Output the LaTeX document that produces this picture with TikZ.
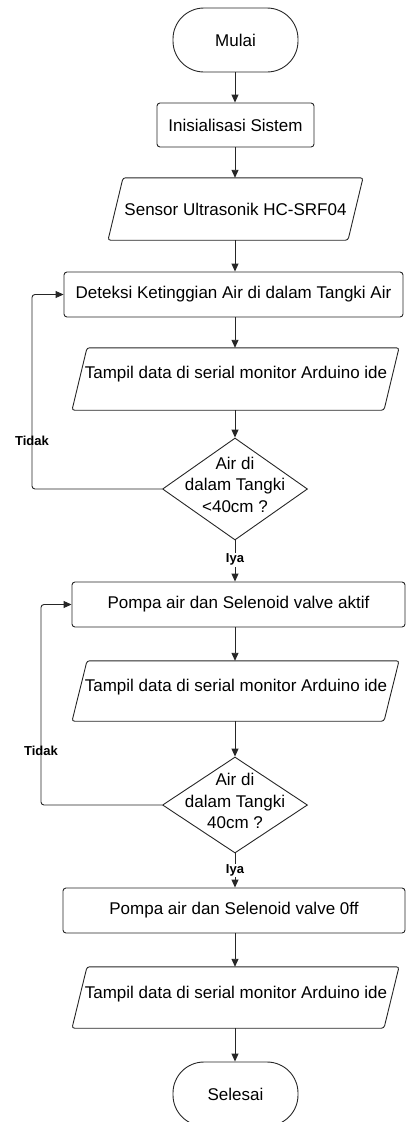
\documentclass[tikz,border=0pt]{standalone}
\usepackage{fontspec}
\setmainfont{Liberation Sans}
\usetikzlibrary{arrows.meta,shapes.geometric,calc}
\begin{document}
\begin{tikzpicture}[x=1pt,y=-1pt,
  lw/.style={line width=0.9pt, draw=black!85},
  arr/.style={lw,-{Triangle[length=8pt,width=7pt]}},
  procbox/.style={lw, rounded corners=3pt, inner sep=0pt, font=\fontsize{17}{20}\selectfont},
  termbox/.style={lw, rounded corners=31pt, inner sep=0pt, minimum width=125pt, minimum height=64pt, font=\fontsize{17}{20}\selectfont},
  holder/.style={inner sep=0pt},
  txt/.style={inner sep=0pt, font=\fontsize{17}{21.5}\selectfont, align=center},
  shp/.style={lw, rounded corners=2.5pt},
  lbl/.style={inner sep=1pt, font=\fontsize{13}{15}\selectfont\bfseries}
]
\useasboundingbox (0,0) rectangle (406,1122);

% Terminals and process boxes
\node[termbox] (mulai) at (235.5,40) {Mulai};
\node[procbox, minimum width=157pt, minimum height=44pt] (init) at (235.5,125) {Inisialisasi Sistem};

% Sensor parallelogram
\node[holder, minimum width=240pt, minimum height=62pt] (sensor) at (235.5,209) {};
\draw[shp] ([xshift=-112.5pt]sensor.north) -- ([xshift=127.5pt]sensor.north) -- ([xshift=112.5pt]sensor.south) -- ([xshift=-127.5pt]sensor.south) -- cycle;
\node[txt] (sensortxt) at (235.5,209) {Sensor Ultrasonik HC-SRF04};

\node[procbox, minimum width=339pt, minimum height=45pt] (deteksi) at (233.5,294.5) {Deteksi Ketinggian Air di dalam Tangki Air};

% Tampil 1
\node[holder, minimum width=312pt, minimum height=62pt] (t1) at (235.5,379) {};
\draw[shp] ([xshift=-148.5pt]t1.north) -- ([xshift=163.5pt]t1.north) -- ([xshift=148.5pt]t1.south) -- ([xshift=-163.5pt]t1.south) -- cycle;
\node[txt] (t1txt) at (236,374) {Tampil data di serial monitor Arduino ide};

% Decision 1
\node[holder, diamond, lw, minimum width=145pt, minimum height=102pt] (d1) at (235,489) {};
\node[txt] (d1txt) at (235,484.5) {Air di\\dalam Tangki\\<40cm ?};

\node[procbox, minimum width=333pt, minimum height=45pt] (p1) at (238.5,604.5) {Pompa air dan Selenoid valve aktif};

% Tampil 2
\node[holder, minimum width=312pt, minimum height=60pt] (t2) at (235.5,691) {};
\draw[shp] ([xshift=-148.5pt]t2.north) -- ([xshift=163.5pt]t2.north) -- ([xshift=148.5pt]t2.south) -- ([xshift=-163.5pt]t2.south) -- cycle;
\node[txt] (t2txt) at (236,687) {Tampil data di serial monitor Arduino ide};

% Decision 2
\node[holder, diamond, lw, minimum width=145pt, minimum height=96pt] (d2) at (235,805) {};
\node[txt] (d2txt) at (235,801) {Air di\\dalam Tangki\\40cm ?};

\node[procbox, minimum width=342pt, minimum height=45pt] (p2) at (234,910.5) {Pompa air dan Selenoid valve 0ff};

% Tampil 3
\node[holder, minimum width=312pt, minimum height=61pt] (t3) at (235.5,997.5) {};
\draw[shp] ([xshift=-148.5pt]t3.north) -- ([xshift=163.5pt]t3.north) -- ([xshift=148.5pt]t3.south) -- ([xshift=-163.5pt]t3.south) -- cycle;
\node[txt] (t3txt) at (236,994) {Tampil data di serial monitor Arduino ide};

\node[termbox] (selesai) at (235.5,1094) {Selesai};

% Connectors
\draw[arr] (d1.north |- mulai.south) -- (d1.north |- init.north);
\draw[arr] (d1.north |- init.south) -- (d1.north |- sensor.north);
\draw[arr] (d1.north |- sensor.south) -- (d1.north |- deteksi.north);
\draw[arr] (d1.north |- deteksi.south) -- (d1.north |- t1.north);
\draw[arr] (d1.north |- t1.south) -- (d1.north);
\draw[arr] (d1.south) -- node[lbl, fill=white, pos=0.47] (iya1) {Iya} (d1.south |- p1.north);
\draw[arr, rounded corners=3pt] (d1.west) -- (32,489) -- node[lbl, pos=0.25] (tidak1) {Tidak} (32,294.5) -- (deteksi.west);

\draw[arr] (d1.north |- p1.south) -- (d1.north |- t2.north);
\draw[arr] (d1.north |- t2.south) -- (d2.north);
\draw[arr] (d2.south) -- node[lbl, fill=white, pos=0.5] (iya2) {Iya} (d2.south |- p2.north);
\draw[arr, rounded corners=3pt] (d2.west) -- (41,805) -- node[lbl, pos=0.27] (tidak2) {Tidak} (41,604.5) -- (p1.west);

\draw[arr] (d1.north |- p2.south) -- (d1.north |- t3.north);
\draw[arr] (d1.north |- t3.south) -- (d1.north |- selesai.north);
\end{tikzpicture}
\end{document}
